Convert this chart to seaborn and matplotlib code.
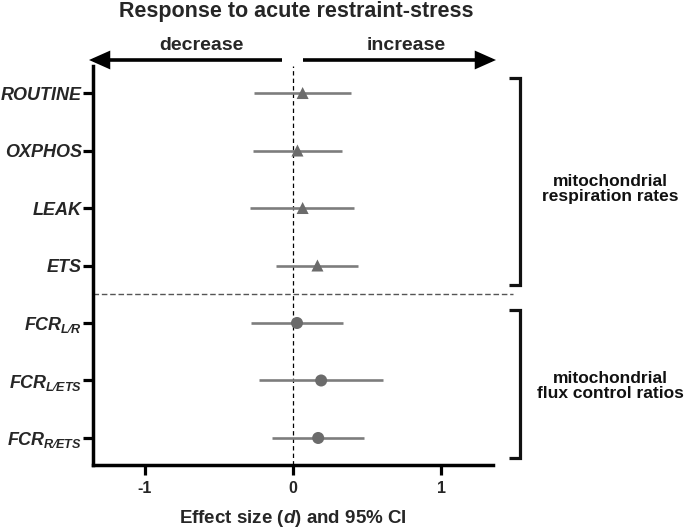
import numpy as np
import pandas as pd
import matplotlib
matplotlib.use("Agg")
import matplotlib.pyplot as plt
import seaborn as sns
from matplotlib.patches import FancyArrowPatch
from matplotlib.lines import Line2D

# ---------------- data ----------------
labels = ["ROUTINE", "OXPHOS", "LEAK", "ETS",
          "$FCR_{L\u2215R}$", "$FCR_{L\u2215ETS}$", "$FCR_{R\u2215ETS}$"]
effect = [0.065, 0.03, 0.065, 0.165, 0.027, 0.19, 0.17]
ci_low = [-0.26, -0.27, -0.29, -0.115, -0.285, -0.23, -0.14]
ci_high = [0.39, 0.33, 0.41, 0.44, 0.34, 0.61, 0.48]
group = ["resp", "resp", "resp", "resp", "fcr", "fcr", "fcr"]
xticks = [-1, 0, 1]
xtick_labels = ["-1", "0", "1"]
group_labels = ["mitochondrial\nrespiration rates", "mitochondrial\nflux control ratios"]

# ---------------- style ----------------
sns.set_style("white")
plt.rcParams["font.family"] = ["Liberation Sans", "DejaVu Sans"]
plt.rcParams["font.weight"] = "bold"
plt.rcParams["mathtext.fontset"] = "custom"
plt.rcParams["mathtext.it"] = "Liberation Sans:italic:bold"
plt.rcParams["mathtext.rm"] = "Liberation Sans:bold"
plt.rcParams["mathtext.bf"] = "Liberation Sans:bold"
plt.rcParams["mathtext.sf"] = "Liberation Sans:bold"

W, H = 685, 528
fig = plt.figure(figsize=(W / 100, H / 100), dpi=100)
fx = lambda px: px / W
fy = lambda py: 1 - py / H

ax = fig.add_axes([fx(93), fy(465), (493 - 93) / W, (465 - 66) / H])

df = pd.DataFrame({"pos": np.arange(len(labels)), "d": effect,
                   "lo": ci_low, "hi": ci_high, "group": group})

mcol = "#6b6b6b"
lcol = "#7d7d7d"

ax.axvline(0, color="black", lw=0.9, ls=(0, (3.5, 2.5)), zorder=1)
ax.hlines(df["pos"], df["lo"], df["hi"], color=lcol, lw=1.9, zorder=2)
sns.scatterplot(data=df, x="d", y="pos", style="group",
                markers={"resp": "^", "fcr": "o"}, color=mcol, s=75,
                edgecolor="none", legend=False, ax=ax, zorder=3)

ax.set_xlim(-1.35, 1.35)
ax.set_ylim(6.47, -0.47)
ax.set_yticks(df["pos"])
ax.set_yticklabels(labels, fontsize=13, fontstyle="italic", fontweight="bold")
ax.set_xticks(xticks)
ax.set_xticklabels(xtick_labels, fontsize=11.5, fontweight="bold")
ax.set_ylabel("")
ax.set_xlabel("Effect size ($d$) and 95% CI", fontsize=13.5, fontweight="bold", labelpad=9)

for s in ["top", "right"]:
    ax.spines[s].set_visible(False)
for s in ["left", "bottom"]:
    ax.spines[s].set_linewidth(2.5)
    ax.spines[s].set_color("black")
ax.tick_params(axis="both", direction="out", length=7, width=2.3, color="black")
ax.tick_params(axis="x", pad=4.5)
ax.tick_params(axis="y", pad=1)
ax.tick_params(left=True, bottom=True)

# separator between groups
ax.axhline(3.5, xmin=0, xmax=(513 - 93) / 400, color="#555555", lw=1.0,
           ls=(0, (4, 2)), clip_on=False, zorder=1)

# title and direction arrows
fig.text(fx(296), fy(16.5), "Response to acute restraint-stress", ha="center",
         va="baseline", fontsize=15.5, fontweight="bold")
fig.text(fx(201), fy(50), "decrease", ha="center", va="baseline", fontsize=14, fontweight="bold")
fig.text(fx(406), fy(50), "increase", ha="center", va="baseline", fontsize=14, fontweight="bold")
for a, b in [((282, 60), (89, 60)), ((303, 60), (496, 60))]:
    arr = FancyArrowPatch((fx(a[0]), fy(a[1])), (fx(b[0]), fy(b[1])),
                          transform=fig.transFigure,
                          arrowstyle="-|>,head_length=0.9,head_width=0.4",
                          mutation_scale=12, lw=2.6, color="black",
                          shrinkA=0, shrinkB=0, joinstyle="miter", capstyle="butt")
    fig.patches.append(arr)

# brackets
for top, bot in [(78, 285), (310, 458)]:
    xs = [fx(509), fx(520), fx(520), fx(509)]
    ys = [fy(top), fy(top), fy(bot), fy(bot)]
    fig.add_artist(Line2D(xs, ys, transform=fig.transFigure, color="#111111",
                          lw=2.3, solid_joinstyle="miter", solid_capstyle="butt"))

fig.text(fx(610), fy(189), group_labels[0], ha="center", va="center",
         fontsize=12.5, fontweight="bold", linespacing=1.05, color="#111111")
fig.text(fx(610), fy(386), group_labels[1], ha="center", va="center",
         fontsize=12.5, fontweight="bold", linespacing=1.05, color="#111111")

fig.savefig("out.png", dpi=100)
